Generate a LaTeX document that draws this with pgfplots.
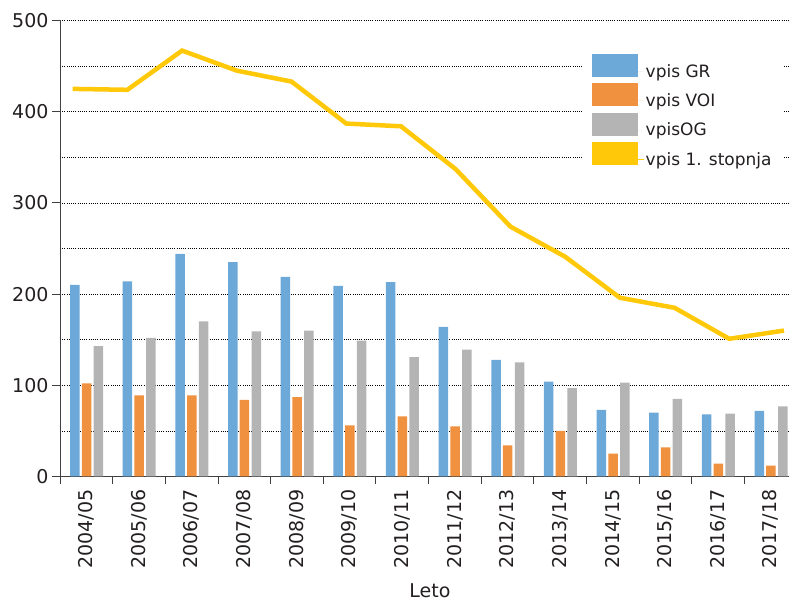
\documentclass[border=0pt]{standalone}
\usepackage{fontspec}
\setmainfont{DejaVu Sans}
\usepackage{pgfplots}
\pgfplotsset{compat=1.18}
\definecolor{cblue}{HTML}{6CA8D8}
\definecolor{corange}{HTML}{F0913F}
\definecolor{cgray}{HTML}{B4B4B4}
\definecolor{cyellow}{HTML}{FFC90A}
\definecolor{axgray}{HTML}{404040}
\definecolor{txt}{HTML}{231F20}
\begin{document}
\begin{tikzpicture}
\begin{axis}[
  scale only axis, width=729pt, height=456pt,
  xmin=-0.5, xmax=13.346, ymin=0, ymax=500,
  axis x line=bottom, axis y line=left,
  axis line style={-, axgray, line width=0.9pt},
  tick align=outside,
  major tick length=8pt,
  minor tick length=0pt,
  tick style={axgray, line width=0.9pt},
  ytick={0,100,...,500},
  minor ytick={50,150,...,450},
  ymajorgrids, yminorgrids,
  major grid style={black, line width=0.7pt, dash pattern=on 0.8pt off 1.4pt},
  minor grid style={black, line width=0.7pt, dash pattern=on 0.8pt off 1.4pt},
  xtick={-0.5,0.5,...,12.5},
  xticklabels={},
  extra x ticks={0,1,...,13},
  extra x tick labels={2004/05,2005/06,2006/07,2007/08,2008/09,2009/10,2010/11,2011/12,2012/13,2013/14,2014/15,2015/16,2016/17,2017/18},
  extra x tick style={tick style={draw=none}, xticklabel style={rotate=90, anchor=east, inner sep=0pt, xshift=-5pt}},
  /pgf/number format/assume math mode=true,
  tick label style={font=\fontsize{19}{22}\selectfont, text=txt},
  xlabel={Leto},
  xlabel style={at={(axis description cs:0.5075,-0.2658)}, anchor=base, inner sep=0pt, font=\fontsize{19}{22}\selectfont, text=txt},
  legend style={at={(axis description cs:0.7174,0.94)}, anchor=north west, draw=none, fill=white,
    inner xsep=9pt, inner ysep=6pt, row sep=2.6pt, font=\fontsize{17}{20}\selectfont, text=txt},
  legend cell align=left,
  legend image code/.code={\fill[#1, line width=0pt] (0pt,-5.5pt) rectangle (46pt,17.5pt); \path (0pt,0pt) -- (51.5pt,0pt);},
]
\addplot[ybar, bar width=9.5pt, bar shift=-11.5pt, fill=cblue, draw=none] coordinates {
(0,210) (1,214) (2,244) (3,235) (4,219) (5,209) (6,213) (7,164) (8,128) (9,104) (10,73) (11,70) (12,68) (13,72)};
\addlegendentry{vpis GR}
\addplot[ybar, bar width=9.5pt, bar shift=0.2pt, fill=corange, draw=none] coordinates {
(0,102) (1,89) (2,89) (3,84) (4,87) (5,56) (6,66) (7,55) (8,34) (9,50) (10,25) (11,32) (12,14) (13,12)};
\addlegendentry{vpis VOI}
\addplot[ybar, bar width=9.5pt, bar shift=12pt, fill=cgray, draw=none] coordinates {
(0,143) (1,152) (2,170) (3,159) (4,160) (5,149) (6,131) (7,139) (8,125) (9,97) (10,103) (11,85) (12,69) (13,77)};
\addlegendentry{vpisOG}
\addplot[cyellow, line width=4.5pt, mark=none, legend image code/.code={\fill[cyellow, draw=none, line width=0pt] (0pt,-5.5pt) rectangle (46pt,17.5pt); \path[line width=0pt] (0pt,0pt) -- (51.5pt,0pt);}] coordinates {
(-0.259,425) (0.780,424) (1.819,467) (2.859,445) (3.898,433) (4.937,387) (5.976,384) (7.015,337) (8.055,274) (9.094,241) (10.133,196) (11.172,185) (12.211,151) (13.251,160)};
\addlegendentry{vpis 1. stopnja}
\end{axis}
\pgfresetboundingbox
\path (-60pt,-124.5pt) rectangle (729pt,476.5pt);
\end{tikzpicture}
\end{document}
